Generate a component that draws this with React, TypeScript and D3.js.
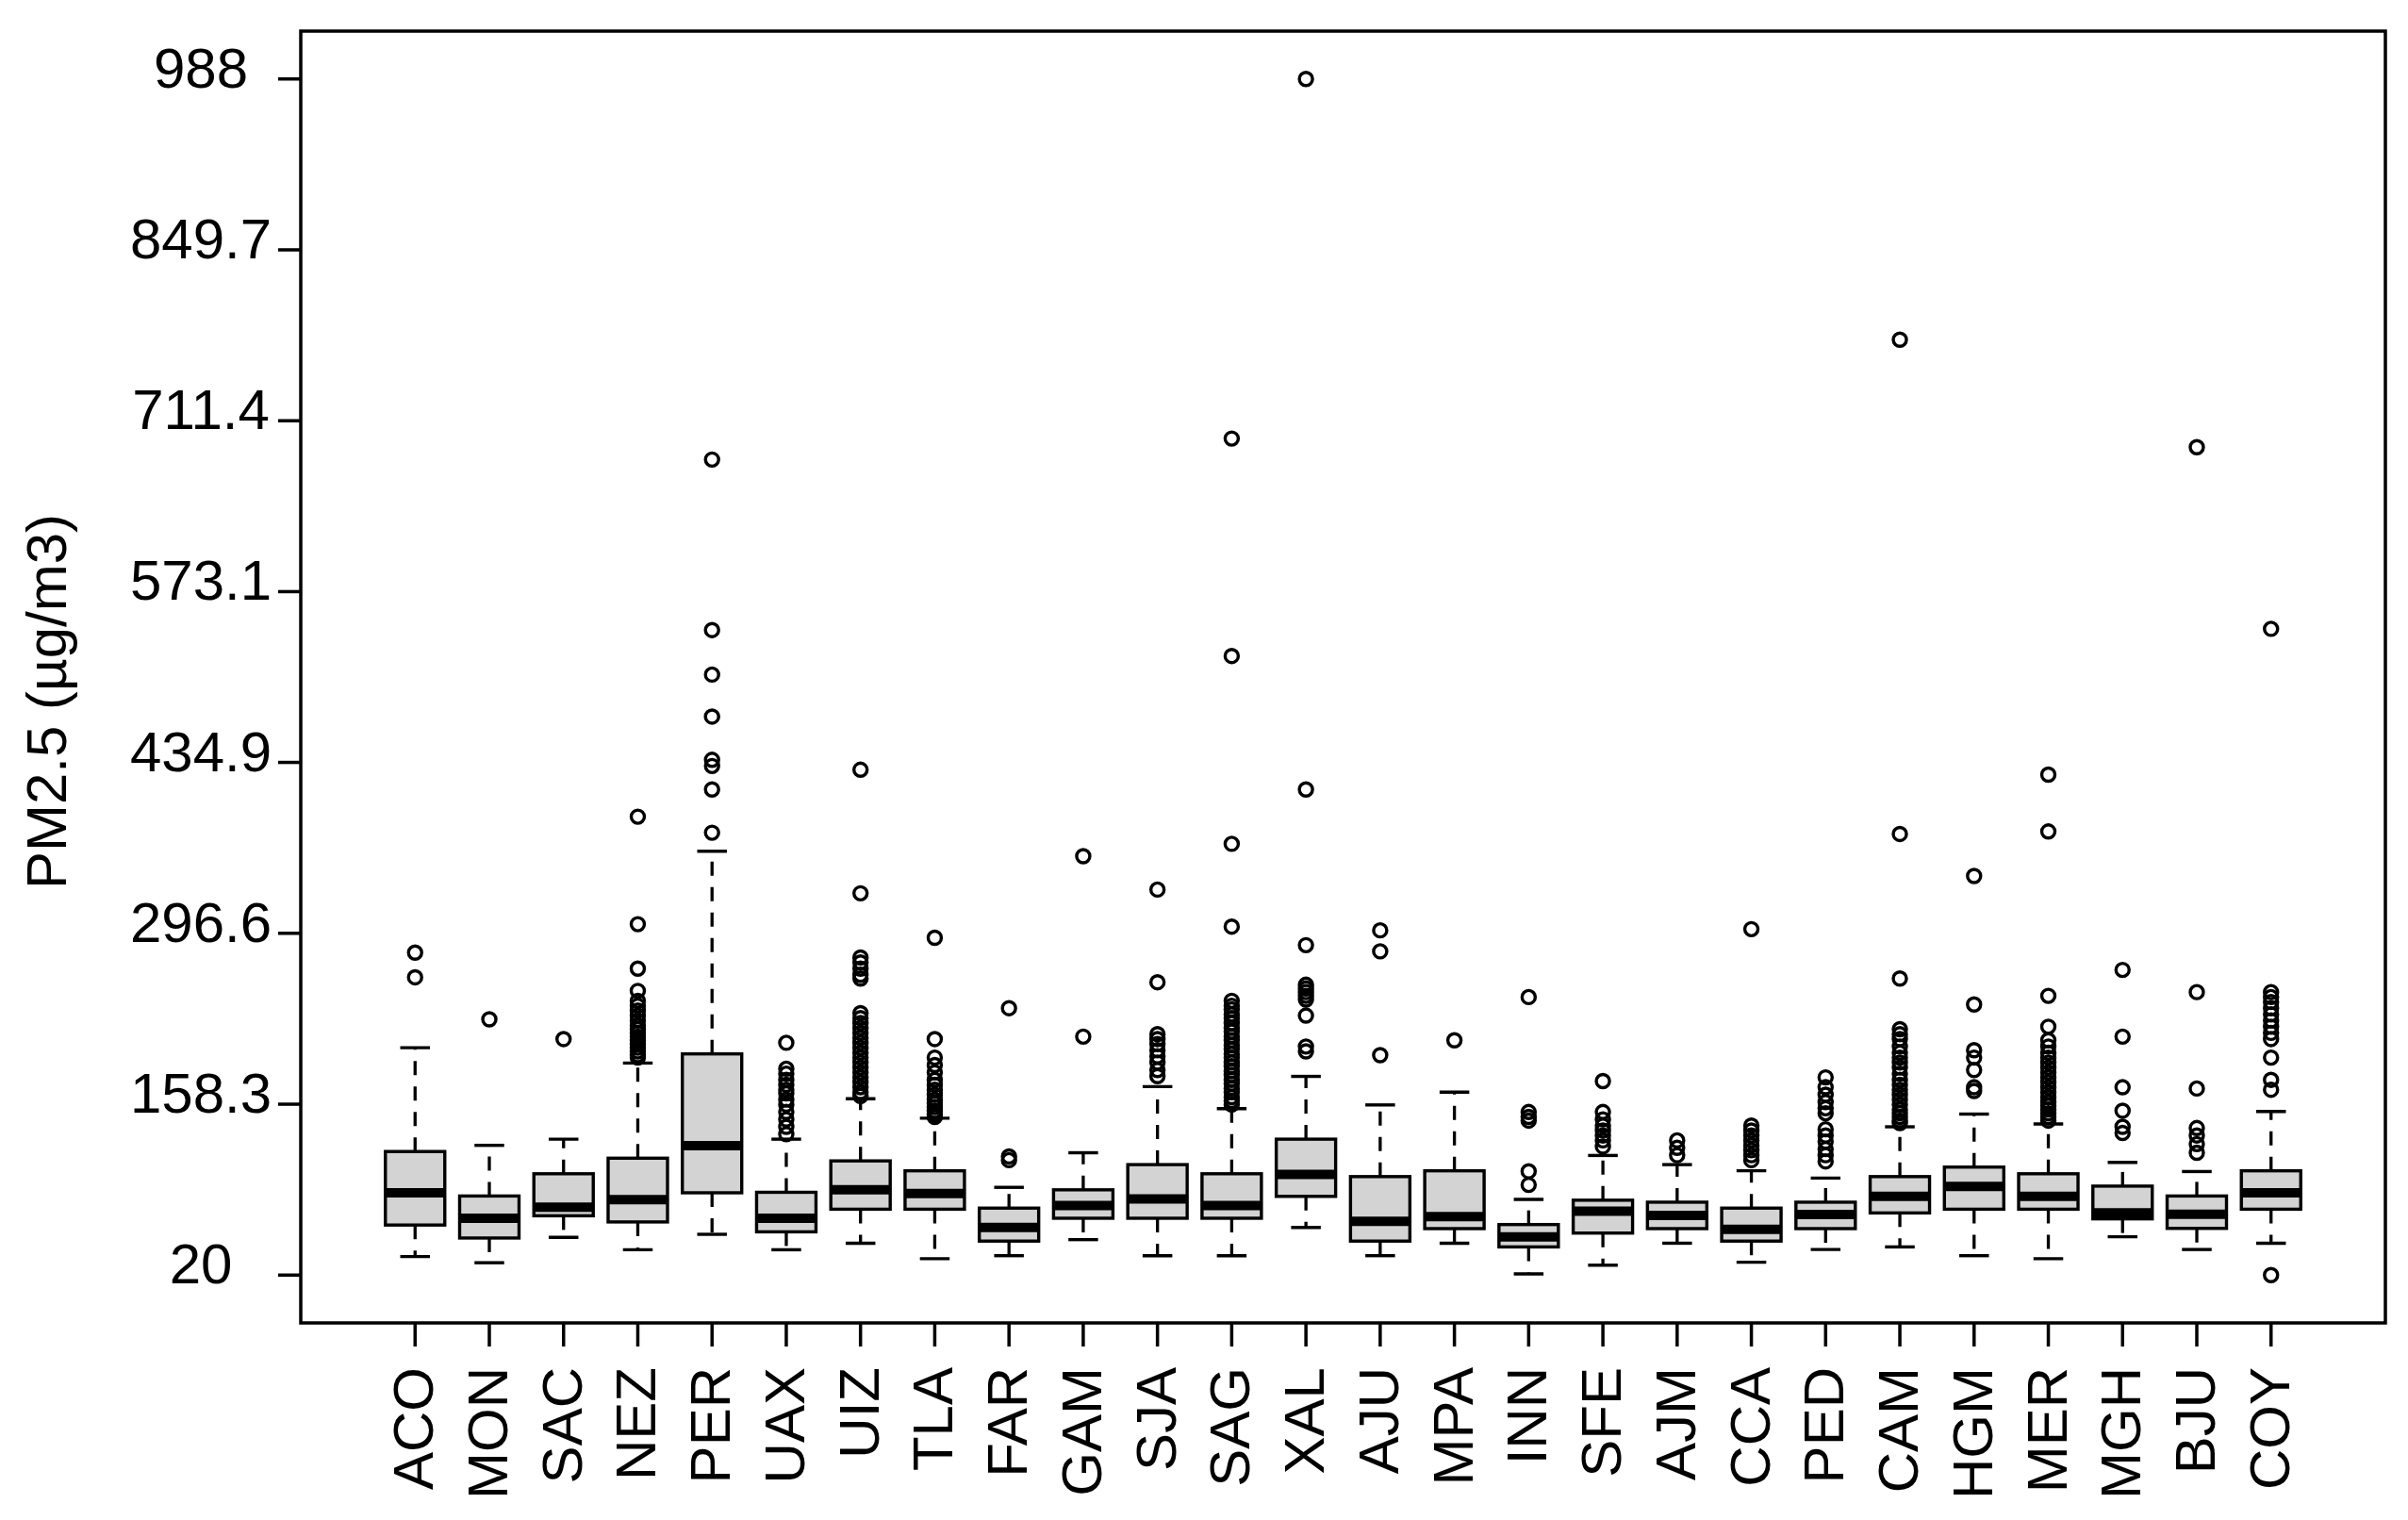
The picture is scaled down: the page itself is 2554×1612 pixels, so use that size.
import * as d3 from 'd3';

const stations = ['ACO', 'MON', 'SAC', 'NEZ', 'PER', 'UAX', 'UIZ', 'TLA', 'FAR', 'GAM', 'SJA', 'SAG', 'XAL',
  'AJU', 'MPA', 'INN', 'SFE', 'AJM', 'CCA', 'PED', 'CAM', 'HGM', 'MER', 'MGH', 'BJU', 'COY'];

const whiskerLow = [35, 30, 50.5, 40.5, 53, 40.5, 45.8, 33.3, 35.7, 48.7, 35.7, 35.7, 58.5,
  35.7, 45.8, 21, 28, 45.8, 30.4, 40.7, 42.8, 35.7, 33.3, 51, 40.7, 45.8];
const q1 = [60.5, 50, 68, 63, 86.6, 55, 73.3, 73.3, 47.5, 66, 66, 66, 83.7,
  47.5, 57.6, 42.8, 54, 57.6, 47.5, 57.6, 70.3, 73.3, 73.3, 65.5, 57.8, 73.3];
const medians = [86.5, 66, 75, 81, 124.7, 66, 89, 86, 58.5, 76.3, 81.6, 76.3, 101.4,
  63.5, 67.4, 51, 71.8, 68.3, 57, 69, 83.7, 91.7, 83.7, 70.3, 69.2, 86.6];
const q3 = [120, 84, 102, 114.6, 199, 87, 112.4, 104.4, 74.2, 89, 109.4, 102, 130,
  99.7, 104.4, 60.9, 80.6, 79, 74.2, 79, 99.7, 107.4, 102, 92, 84, 104.4];
const whiskerHigh = [204, 125, 130, 191.6, 363, 130, 162.7, 147, 91, 119, 172.5, 154.7, 180.8,
  157.7, 168, 81.3, 116.8, 109.4, 104.4, 98.5, 140, 150.3, 142.3, 111.2, 103.8, 152.4];

// outlying points per station
const outliers: number[][] = [
  [281, 261],
  [227],
  [211],
  [391, 304, 268, 250, 242, 238, 234, 230, 226, 222, 219, 216, 213, 210, 207, 204, 201, 198, 196],
  [680, 542, 506, 472, 437, 432, 413, 378],
  [208, 187, 183, 178, 174, 170, 167, 162, 158, 152, 146, 140, 134],
  [429, 329, 277, 273, 268, 263, 260, 232, 228, 224, 220, 216, 212, 208, 204, 200, 196, 192, 188, 184, 180, 176, 172, 168, 165],
  [293, 211, 196, 190, 184, 178, 174, 170, 166, 162, 159, 156, 153, 150, 148],
  [236, 116, 113],
  [359, 213],
  [332, 257, 215, 211, 207, 202, 197, 192, 186, 181],
  [697, 521, 369, 302, 242, 238, 235, 231, 228, 224, 220, 217, 213, 210, 206, 203, 199, 196, 192, 189, 185, 182, 178, 175, 171, 168, 164, 161, 158],
  [988, 413, 287, 255, 252, 249, 246, 243, 230, 205, 201],
  [299, 282, 198],
  [210],
  [245, 152, 148, 145, 104, 93],
  [177, 152, 146, 141, 137, 133, 129, 124],
  [129, 123, 117],
  [300, 141, 137, 133, 129, 125, 121, 117, 113],
  [180, 172, 166, 160, 155, 151, 138, 133, 128, 122, 117, 112],
  [777, 377, 260, 219, 215, 211, 205, 200, 196, 192, 188, 183, 178, 174, 170, 166, 162, 158, 154, 151, 148, 145, 143],
  [343, 239, 202, 196, 186, 172, 169],
  [425, 379, 246, 221, 210, 205, 200, 196, 192, 188, 184, 180, 176, 172, 168, 164, 160, 157, 154, 151, 148, 145],
  [267, 213, 172, 153, 140, 135],
  [690, 249, 171, 139, 133, 126, 119],
  [543, 249, 245, 241, 236, 231, 226, 221, 216, 211, 196, 178, 170, 20],
];

const yTicks = [20, 158.3, 296.6, 434.9, 573.1, 711.4, 849.7, 988];
const yTitle = 'PM2.5 (\u00b5g/m3)';

const W = 2554;
const H = 1612;
const frame = { left: 319, right: 2530, top: 33, bottom: 1403 };
const font = '"Liberation Sans", Arial, Helvetica, sans-serif';

export default function App() {
  const n = stations.length;
  // R style 4% padding around the data range
  const xPad = n * 0.04;
  const x = d3.scaleLinear().domain([0.5 - xPad, n + 0.5 + xPad]).range([frame.left, frame.right]);
  const yMin = 20, yMax = 988;
  const yPad = (yMax - yMin) * 0.04;
  const y = d3.scaleLinear().domain([yMin - yPad, yMax + yPad]).range([frame.bottom, frame.top]);

  const boxHalf = x(1.4) - x(1);
  const stapleHalf = x(1.2) - x(1);

  return (
    <svg width={W} height={H} style={{ position: 'absolute', left: 0, top: 0, background: '#fff' }}
      fontFamily={font}>
      <rect x={0} y={0} width={W} height={H} fill="#fff" />

      {stations.map((s, i) => {
        const cx = x(i + 1);
        return (
          <g key={s}>
            <line x1={cx} x2={cx} y1={y(q3[i])} y2={y(whiskerHigh[i])} stroke="#000" strokeWidth={3.3}
              strokeDasharray="15,12" />
            <line x1={cx} x2={cx} y1={y(q1[i])} y2={y(whiskerLow[i])} stroke="#000" strokeWidth={3.3}
              strokeDasharray="15,12" />
            <line x1={cx - stapleHalf} x2={cx + stapleHalf} y1={y(whiskerHigh[i])} y2={y(whiskerHigh[i])}
              stroke="#000" strokeWidth={3.4} />
            <line x1={cx - stapleHalf} x2={cx + stapleHalf} y1={y(whiskerLow[i])} y2={y(whiskerLow[i])}
              stroke="#000" strokeWidth={3.4} />
            <rect x={cx - boxHalf} y={y(q3[i])} width={boxHalf * 2} height={y(q1[i]) - y(q3[i])}
              fill="#d3d3d3" stroke="#000" strokeWidth={3.4} />
            <line x1={cx - boxHalf} x2={cx + boxHalf} y1={y(medians[i])} y2={y(medians[i])}
              stroke="#000" strokeWidth={10} />
            {outliers[i].map((v, j) => (
              <circle key={j} cx={cx} cy={y(v)} r={7} fill="none" stroke="#000" strokeWidth={3.4} />
            ))}
          </g>
        );
      })}

      <rect x={frame.left} y={frame.top} width={frame.right - frame.left} height={frame.bottom - frame.top}
        fill="none" stroke="#000" strokeWidth={3.5} />

      {yTicks.map((t) => (
        <g key={t}>
          <line x1={frame.left - 24} x2={frame.left} y1={y(t)} y2={y(t)} stroke="#000" strokeWidth={3.5} />
          <text x={213} y={y(t) + 9} fontSize={60} textAnchor="middle" fill="#000">{String(t)}</text>
        </g>
      ))}
      <text transform={`translate(70,${(frame.top + frame.bottom) / 2 + 26}) rotate(-90)`} fontSize={60}
        textAnchor="middle" fill="#000">{yTitle}</text>

      {stations.map((s, i) => {
        const cx = x(i + 1);
        return (
          <g key={s}>
            <line x1={cx} x2={cx} y1={frame.bottom} y2={frame.bottom + 25} stroke="#000" strokeWidth={3.5} />
            <text transform={`translate(${cx + 19},1450) rotate(-90)`} fontSize={60} textAnchor="end"
              fill="#000">{s}</text>
          </g>
        );
      })}
    </svg>
  );
}
